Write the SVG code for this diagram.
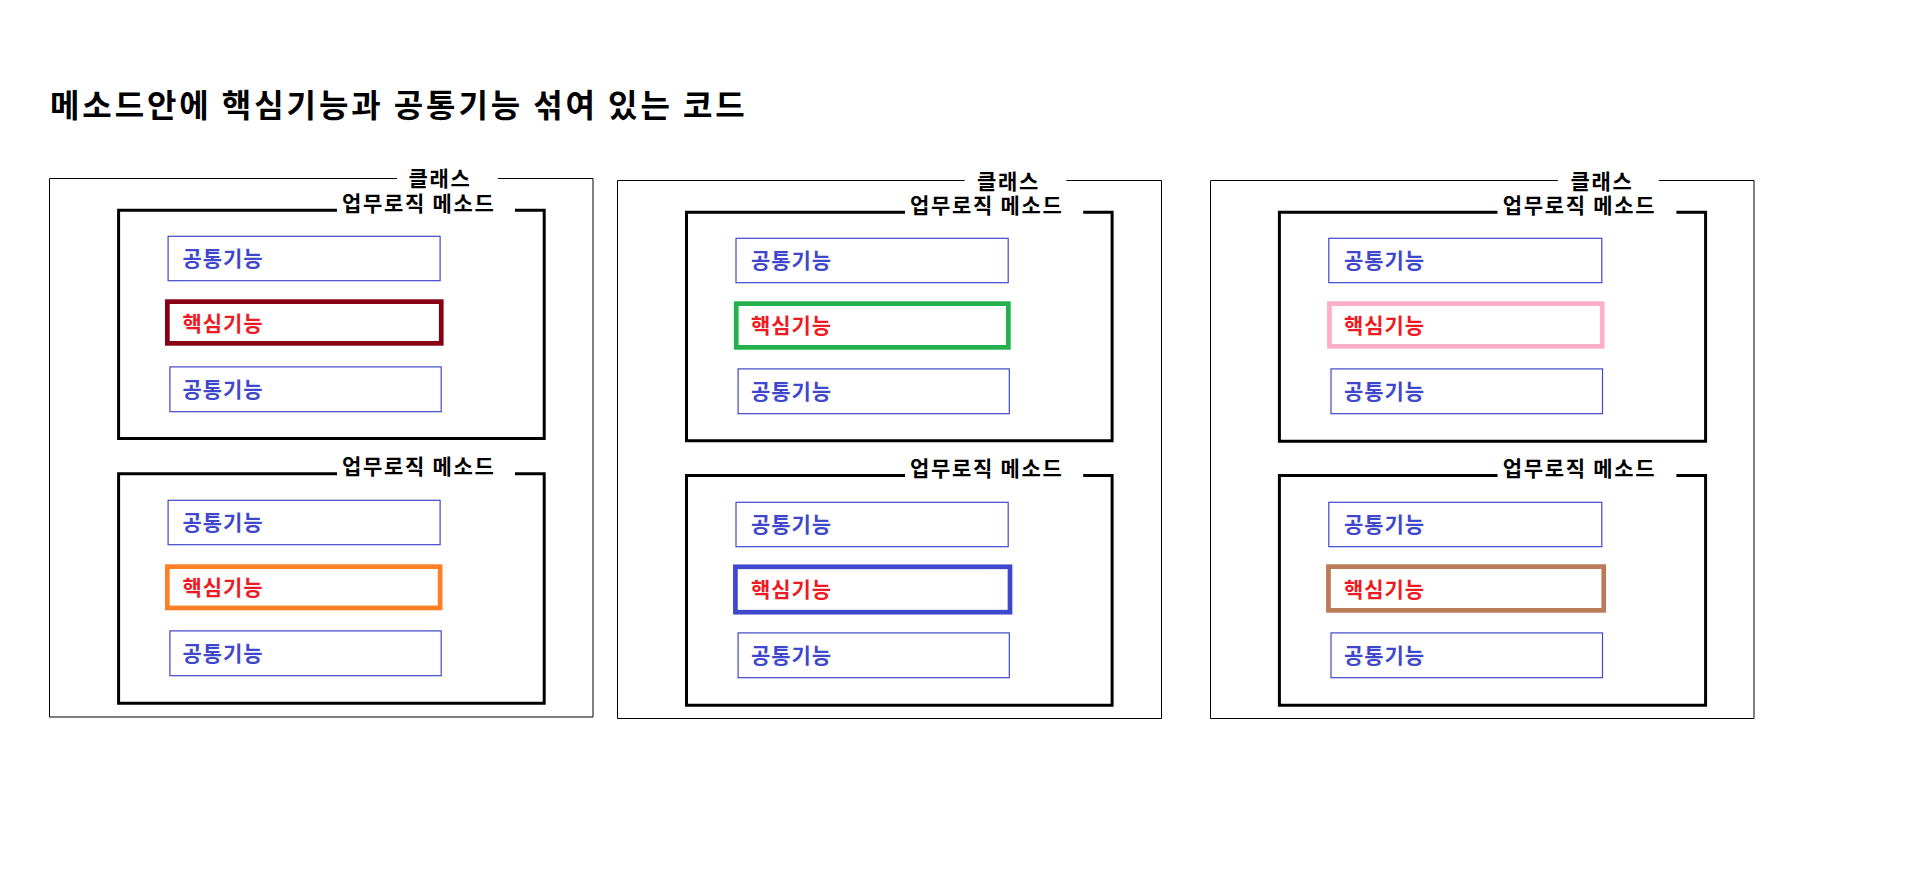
<svg xmlns="http://www.w3.org/2000/svg" width="1907" height="873" viewBox="0 0 1907 873">
<style>
text{font-family:"Noto Sans CJK KR","Noto Sans",sans-serif;font-weight:bold}
.title{font-size:32px;letter-spacing:2.9px;fill:#000}
.lbl{font-size:21px;letter-spacing:1.7px;fill:#000}
.cls{fill:none;stroke:#000;stroke-width:1}
.mth{fill:none;stroke:#000;stroke-width:3}
.com{fill:#fff;stroke:#3f48cc;stroke-width:1.2}
.comt{font-size:21px;letter-spacing:0.9px;fill:#3f48cc}
.coret{font-size:21px;letter-spacing:0.9px;fill:#ed1c24}
.core{fill:#fff;stroke-width:4.7}
</style>
<rect width="1907" height="873" fill="#fff"/>
<text class="title" x="50" y="117">메소드안에 핵심기능과 공통기능 섞여 있는 코드</text>

<g id="class1">
<path class="cls" d="M397,178.5 H49.5 V717 H593 V178.5 H498"/>
<text class="lbl" x="408.5" y="186">클래스</text>
<g id="method1a">
<path class="mth" d="M337,210.2 H118.6 V438.5 H544.2 V210.2 H515"/>
<text class="lbl" x="342" y="210.5">업무로직 메소드</text>
<g id="c1a1"><rect class="com" x="168.1" y="236.3" width="272" height="44.4"/><text class="comt" x="182.5" y="266">공통기능</text></g>
<g id="k1a"><rect class="core" stroke="#880015" x="167.35" y="301.65" width="273.9" height="41.7"/><text class="coret" x="182.5" y="330.5">핵심기능</text></g>
<g id="c1a2"><rect class="com" x="169.9" y="366.9" width="271.3" height="44.8"/><text class="comt" x="182.5" y="396.5">공통기능</text></g>
</g>
<g id="method1b">
<path class="mth" d="M337,473.8 H118.6 V703.2 H544.2 V473.8 H515"/>
<text class="lbl" x="342" y="474">업무로직 메소드</text>
<g id="c1b1"><rect class="com" x="168.1" y="500.3" width="272" height="44.4"/><text class="comt" x="182.5" y="530">공통기능</text></g>
<g id="k1b"><rect class="core" stroke="#ff7f27" x="167.35" y="566.65" width="272.8" height="41.3"/><text class="coret" x="182.5" y="595">핵심기능</text></g>
<g id="c1b2"><rect class="com" x="169.9" y="630.9" width="271.3" height="44.8"/><text class="comt" x="182.5" y="661">공통기능</text></g>
</g>
</g>

<g id="class2">
<path class="cls" d="M964.6,180.5 H617.5 V718.5 H1161.5 V180.5 H1066.4"/>
<text class="lbl" x="977" y="188.5">클래스</text>
<g id="method2a">
<path class="mth" d="M905,212.2 H686.5 V440.8 H1112.1 V212.2 H1083.2"/>
<text class="lbl" x="910" y="212.5">업무로직 메소드</text>
<g id="c2a1"><rect class="com" x="736" y="238.3" width="272.2" height="44.4"/><text class="comt" x="751" y="267.5">공통기능</text></g>
<g id="k2a"><rect class="core" stroke="#22b14c" x="736.25" y="303.65" width="272.1" height="43.7"/><text class="coret" x="751" y="333">핵심기능</text></g>
<g id="c2a2"><rect class="com" x="738.1" y="368.9" width="271.2" height="44.8"/><text class="comt" x="751" y="398.8">공통기능</text></g>
</g>
<g id="method2b">
<path class="mth" d="M905,475.5 H686.5 V705.2 H1112.1 V475.5 H1083.2"/>
<text class="lbl" x="910" y="476">업무로직 메소드</text>
<g id="c2b1"><rect class="com" x="736" y="502.3" width="272.2" height="44.4"/><text class="comt" x="751" y="532">공통기능</text></g>
<g id="k2b"><rect class="core" stroke="#3f48cc" stroke-width="5" x="735.4" y="566.8" width="274.6" height="45.4"/><text class="coret" x="751" y="597">핵심기능</text></g>
<g id="c2b2"><rect class="com" x="738.1" y="632.9" width="271.2" height="44.8"/><text class="comt" x="751" y="663">공통기능</text></g>
</g>
</g>

<g id="class3">
<path class="cls" d="M1557.9,180.5 H1210.5 V718.5 H1754 V180.5 H1658.9"/>
<text class="lbl" x="1570.5" y="188.5">클래스</text>
<g id="method3a">
<path class="mth" d="M1497.5,212.2 H1279.4 V441.2 H1705.6 V212.2 H1676.4"/>
<text class="lbl" x="1502.7" y="212.5">업무로직 메소드</text>
<g id="c3a1"><rect class="com" x="1328.8" y="238.3" width="273" height="44.4"/><text class="comt" x="1344" y="267.5">공통기능</text></g>
<g id="k3a"><rect class="core" stroke="#ffaec9" x="1329.45" y="303.65" width="272.8" height="42.7"/><text class="coret" x="1344" y="332.5">핵심기능</text></g>
<g id="c3a2"><rect class="com" x="1331" y="368.9" width="271.5" height="44.8"/><text class="comt" x="1344" y="398.8">공통기능</text></g>
</g>
<g id="method3b">
<path class="mth" d="M1497.5,475.5 H1279.4 V705.2 H1705.6 V475.5 H1676.4"/>
<text class="lbl" x="1502.7" y="476">업무로직 메소드</text>
<g id="c3b1"><rect class="com" x="1328.8" y="502.3" width="273" height="44.4"/><text class="comt" x="1344" y="532">공통기능</text></g>
<g id="k3b"><rect class="core" stroke="#b97a57" x="1328.45" y="566.65" width="275.3" height="43.7"/><text class="coret" x="1344" y="596.5">핵심기능</text></g>
<g id="c3b2"><rect class="com" x="1331" y="632.9" width="271.5" height="44.8"/><text class="comt" x="1344" y="663">공통기능</text></g>
</g>
</g>
</svg>
